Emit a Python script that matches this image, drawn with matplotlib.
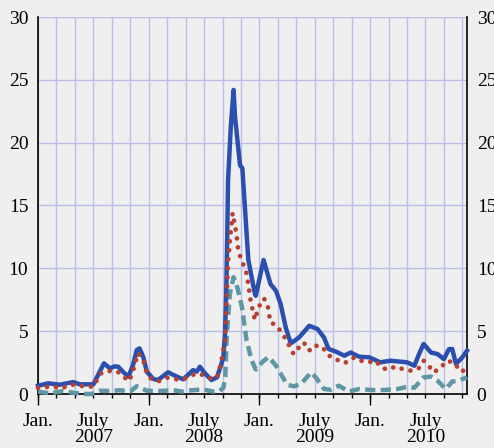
import numpy as np
from matplotlib import pyplot as plt

# months since Jan. 2007
blue_month = [0, 1.1, 2.4, 3.8, 4.55, 6.0, 7.15, 7.8, 8.3, 8.7, 9.3, 9.8, 10.3, 10.7, 11.0, 11.4,
              11.8, 12.5, 13.0, 14.1, 15.0, 15.75, 16.8, 17.2, 17.55, 18.1, 18.8, 19.4, 19.9, 20.1,
              20.27, 20.4, 20.5, 20.6, 20.9, 21.2, 21.35, 21.9, 22.15, 22.8, 23.5, 23.6, 24.45, 25.2,
              25.8, 26.3, 26.85, 27.4, 28.3, 29.4, 30.3, 31.0, 31.5, 32.3, 33.2, 33.9, 34.8, 35.9,
              37.1, 38.2, 40.0, 40.8, 41.3, 41.8, 42.6, 43.3, 44.0, 44.55, 44.9, 45.3, 46.0, 46.5]
blue_value = [0.66, 0.85, 0.74, 0.95, 0.77, 0.77, 2.44, 2.04, 2.2, 2.17, 1.7, 1.38, 2.3, 3.5, 3.63, 2.97,
              1.77, 1.19, 1.11, 1.73, 1.4, 1.17, 1.9, 1.78, 2.17, 1.64, 1.11, 1.33, 2.44, 3.0,
              4.83, 8.0, 12.0, 17.0, 21.3, 24.2, 22.1, 18.2, 17.96, 10.66, 8.0, 7.82, 10.66, 8.75,
              8.2, 7.16, 5.3, 4.03, 4.5, 5.43, 5.17, 4.5, 3.58, 3.37, 3.05, 3.3, 2.97, 2.92,
              2.52, 2.65, 2.52, 2.25, 3.18, 3.98, 3.3, 3.18, 2.78, 3.58, 3.58, 2.39, 2.92, 3.45]

red_month = [0, 0.8, 1.66, 2.6, 3.5, 4.4, 5.2, 6.0, 6.4, 6.9, 7.7, 8.6, 9.25, 9.9, 10.5, 10.8, 11.35,
             11.8, 12.3, 13.15, 14.0, 14.96, 15.8, 16.7, 17.4, 18.3, 19.0, 19.55, 19.9, 20.3, 20.6,
             20.8, 21.1, 21.5, 21.7, 22.1, 22.5, 22.8, 23.05, 23.5, 23.9, 24.5, 24.9, 25.2, 25.9,
             26.85, 27.7, 28.3, 28.8, 29.4, 29.9, 30.8, 31.5, 32.1, 32.8, 33.5, 34.3, 35.0, 35.8,
             36.6, 37.2, 37.9, 38.8, 39.7, 40.5, 41.3, 41.8, 42.4, 42.9, 43.65, 44.4, 44.9, 45.3,
             45.6, 46.4]
red_value = [0.5, 0.55, 0.58, 0.45, 0.77, 0.66, 0.6, 0.58, 1.11, 1.7, 1.83, 1.8, 1.38, 1.03, 2.3, 3.24, 2.84,
             1.65, 1.17, 1.03, 1.3, 1.17, 1.19, 1.51, 1.64, 1.38, 1.17, 1.51, 2.7, 4.5, 10.4,
             12.25, 14.4, 12.8, 11.46, 10.5, 10.0, 8.7, 7.4, 5.9, 6.9, 7.6, 7.0, 5.7, 5.43,
             4.38, 3.18, 3.72, 4.1, 3.45, 3.87, 3.77, 3.05, 2.92, 2.52, 2.52, 2.92, 2.65, 2.52,
             2.65, 2.12, 1.93, 2.2, 1.93, 1.85, 2.07, 2.65, 2.2, 1.72, 2.12, 2.65, 2.52, 2.39,
             1.85, 1.85]

teal_month = [0, 1.3, 2.75, 3.8, 4.9, 5.8, 6.7, 7.8, 8.9, 10.0, 10.7, 11.8, 13.2, 14.7, 15.6, 16.7,
              17.9, 19.0, 19.7, 20.1, 20.3, 20.45, 20.8, 21.2, 21.6, 22.1, 22.6, 23.15, 23.6, 24.4,
              25.0, 25.8, 27.0, 27.75, 28.5, 29.6, 30.1, 31.0, 31.7, 32.6, 33.7, 34.8, 36.1, 37.5,
              39.0, 40.0, 40.8, 41.8, 42.6, 43.3, 44.2, 44.9, 45.6, 46.5]
teal_value = [0.19, 0.05, 0.24, 0.1, 0.0, 0.0, 0.26, 0.24, 0.3, 0.19, 0.62, 0.26, 0.24, 0.3, 0.19, 0.3,
              0.37, 0.19, 0.26, 0.5, 1.4, 4.5, 8.0, 9.3, 8.5, 6.95, 4.3, 2.7, 1.95, 2.6,
              2.95, 2.25, 0.74, 0.61, 0.8, 1.72, 1.33, 0.4, 0.34, 0.66, 0.19, 0.4, 0.32, 0.32,
              0.4, 0.58, 0.5, 1.33, 1.38, 1.06, 0.4, 0.99, 1.06, 1.33]

years = [2007, 2008, 2009, 2010]

bg = '#efefef'
grid_color = '#b9bde8'

plt.rcParams['font.family'] = ['Liberation Serif', 'DejaVu Serif']
plt.rcParams['font.size'] = 14

fig = plt.figure(figsize=(4.94, 4.48), dpi=100, facecolor=bg)
ax = fig.add_axes([38 / 494, 1 - 394 / 448, 429 / 494, 377 / 448], facecolor=bg)

# series
ax.plot(teal_month, teal_value, color='#5f97a4', lw=3.2, dashes=(2.3, 1.2), clip_on=False, zorder=3)
ax.plot(blue_month, blue_value, color='#2a4fae', lw=3.2, solid_joinstyle='round', clip_on=False, zorder=4)
ax.plot(red_month, red_value, color='#b8402e', lw=3.4, dashes=(0.01, 1.9), dash_capstyle='round',
        clip_on=False, zorder=5)

ax.set_xlim(0, 46.5)
ax.set_ylim(0, 30)

# x axis: tick every 2 months, long tick at January
major = np.arange(0, 47, 2)
labels = []
for m in major:
    if m % 12 == 0:
        labels.append('Jan.')
    elif m % 12 == 6:
        labels.append(f'July\n{years[m // 12]}')
    else:
        labels.append('')
ax.set_xticks(major, labels)
ax.set_xticks([0, 12, 24, 36], minor=True)
ax.xaxis.remove_overlapping_locs = False
ax.tick_params(axis='x', which='major', length=3, width=1, direction='out', pad=10.5)
ax.tick_params(axis='x', which='minor', length=8, width=1, direction='out')
plt.setp(ax.get_xticklabels(), linespacing=0.95)

# y axis on both sides
ax.set_yticks(np.arange(0, 31, 5))
ax.tick_params(axis='y', length=0, pad=7, labelright=True, right=True)

ax.grid(True, axis='both', which='major', color=grid_color, lw=1.0)
ax.set_axisbelow(True)

for side in ['left', 'right', 'bottom']:
    ax.spines[side].set_color('black')
    ax.spines[side].set_linewidth(1.2)
ax.spines['top'].set_visible(False)

plt.savefig('out.png', dpi=100, facecolor=bg)
